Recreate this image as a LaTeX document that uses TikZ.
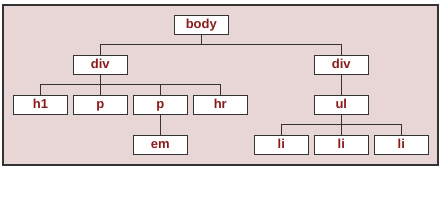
\documentclass[tikz,border=0pt]{standalone}
\usepackage{fontspec}
\setmainfont{Liberation Sans}
\definecolor{bgpink}{HTML}{E8D5D6}
\definecolor{tagred}{HTML}{8B1A1A}
\definecolor{linegray}{HTML}{333333}
\begin{document}
\begin{tikzpicture}[x=1pt,y=-1pt,
  tag/.style={draw=linegray,line width=1.6pt,fill=white,minimum width=54pt,minimum height=19pt,inner sep=0pt,
    text height=9.5pt,text depth=2.5pt,
    text=tagred,font=\fontsize{13}{15}\selectfont\bfseries},
  conn/.style={draw=linegray,line width=1.4pt}]
\useasboundingbox (0,0) rectangle (442,218);
\draw[draw=linegray,line width=1.8pt,fill=bgpink] (3,5) rectangle (438,165);
\node[tag] (body) at (201.3,24.8) {body};
\node[tag] (div1) at (100.3,64.8) {div};
\node[tag] (div2) at (341.3,64.8) {div};
\node[tag] (h1) at (40.5,104.8) {h1};
\node[tag] (p1) at (100.3,104.8) {p};
\node[tag] (p2) at (160.3,104.8) {p};
\node[tag] (hr) at (220.3,104.8) {hr};
\node[tag] (ul) at (341.3,104.8) {ul};
\node[tag] (em) at (160.3,144.8) {em};
\node[tag] (li1) at (281.3,144.8) {li};
\node[tag] (li2) at (341.3,144.8) {li};
\node[tag] (li3) at (401.3,144.8) {li};
\draw[conn] (body.south) |- (100.3,44.3) -| (div1.north);
\draw[conn] (body.south) |- (341.3,44.3) -| (div2.north);
\draw[conn] (div1.south) -- (p1.north);
\draw[conn] (h1.north) |- (100.3,84.3) -| (hr.north);
\draw[conn] (p2.north) -- (p2.north |- 0,84.3);
\draw[conn] (div2.south) -- (ul.north);
\draw[conn] (p2.south) -- (em.north);
\draw[conn] (ul.south) -- (li2.north);
\draw[conn] (li1.north) |- (341.3,124.3) -| (li3.north);
\end{tikzpicture}
\end{document}
